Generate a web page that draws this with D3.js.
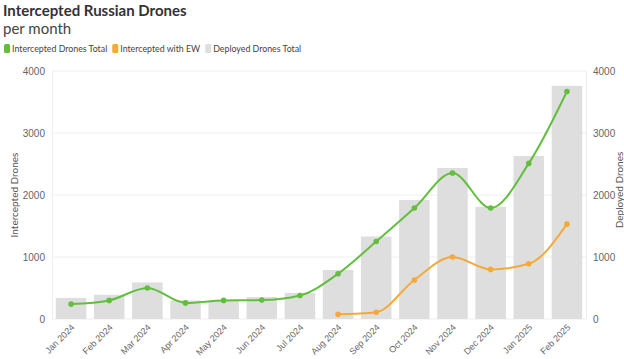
<!DOCTYPE html>
<html><head><meta charset="utf-8">
<script src="https://cdn.jsdelivr.net/npm/d3@7"></script>
<style>
body{margin:0;background:#fff;}
svg{display:block;font-family:"Source Sans Pro",Lato,"Noto Sans",sans-serif;}
</style></head>
<body><svg id="c" width="624" height="359"></svg>
<script>
const months = ["Jan 2024","Feb 2024","Mar 2024","Apr 2024","May 2024","Jun 2024","Jul 2024","Aug 2024","Sep 2024","Oct 2024","Nov 2024","Dec 2024","Jan 2025","Feb 2025"];
const deployedTotal = [340,390,590,300,300,355,420,790,1330,1920,2435,1810,2630,3760];
const interceptedTotal = [240,300,500,260,300,305,380,730,1250,1790,2355,1790,2510,3670];
const interceptedEW = [null,null,null,null,null,null,null,75,110,630,1000,800,890,1530];
const yTicks = [0,1000,2000,3000,4000];

const svg = d3.select("#c");
const L = 52, R = 586, T = 71, B = 319;
const x = d3.scaleBand().domain(months).range([L,R]).paddingInner(0.2).paddingOuter(0.1);
const y = d3.scaleLinear().domain([0,4000]).range([B,T]);
const y2 = d3.scaleLinear().domain([0,4000]).range([B,T]);
const green = "#62bf3e", orange = "#f4aa3a", gray = "#dedede";
const fmt = d3.format("d");

// grid
svg.append("g").selectAll("line").data(yTicks).join("line")
  .attr("x1",L).attr("x2",R).attr("y1",d=>y(d)).attr("y2",d=>y(d))
  .attr("stroke","#eeeeee").attr("stroke-width",1);
svg.append("line").attr("x1",L+0.5).attr("x2",L+0.5).attr("y1",T).attr("y2",B).attr("stroke","#eeeeee");
svg.append("line").attr("x1",R+0.5).attr("x2",R+0.5).attr("y1",T).attr("y2",B).attr("stroke","#eeeeee");

// y axes
const ax = d3.axisLeft(y).tickValues(yTicks).tickFormat(fmt).tickSize(0).tickPadding(7);
const gL = svg.append("g").attr("transform",`translate(${L},0)`).call(ax);
gL.select(".domain").remove();
gL.selectAll("text").attr("fill","#666").attr("font-size",10).attr("font-family","inherit");
const ax2 = d3.axisRight(y2).tickValues(yTicks).tickFormat(fmt).tickSize(0).tickPadding(7);
const gR = svg.append("g").attr("transform",`translate(${R},0)`).call(ax2);
gR.select(".domain").remove();
gR.selectAll("text").attr("fill","#666").attr("font-size",10).attr("font-family","inherit");

// bars
svg.append("g").selectAll("rect").data(deployedTotal).join("rect")
  .attr("x",(d,i)=>x(months[i])).attr("width",x.bandwidth())
  .attr("y",d=>y2(d)).attr("height",d=>B-y2(d)).attr("fill",gray);

// x axis
const gx = svg.append("g").attr("transform",`translate(0,${B})`).call(d3.axisBottom(x).tickSize(0).tickPadding(0));
gx.select(".domain").remove();
gx.selectAll("text").attr("fill","#666").attr("font-size",9).attr("font-family","inherit")
  .attr("text-anchor","end").attr("dy","0")
  .attr("transform","translate(4,9) rotate(-45)");

// lines
const cx = i => x(months[i]) + x.bandwidth()/2;
const line = d3.line().x((d,i)=>cx(i)).y(d=>y(d)).curve(d3.curveMonotoneX);
const ewData = interceptedEW.map((d,i)=>({d,i})).filter(o=>o.d!=null);
const line2 = d3.line().x(o=>cx(o.i)).y(o=>y(o.d)).curve(d3.curveMonotoneX);
svg.append("path").datum(ewData).attr("d",line2).attr("fill","none").attr("stroke",orange).attr("stroke-width",2);
svg.append("g").selectAll("circle").data(ewData).join("circle")
  .attr("cx",o=>cx(o.i)).attr("cy",o=>y(o.d)).attr("r",2.8).attr("fill",orange);
svg.append("path").datum(interceptedTotal).attr("d",line).attr("fill","none").attr("stroke",green).attr("stroke-width",2);
svg.append("g").selectAll("circle").data(interceptedTotal).join("circle")
  .attr("cx",(d,i)=>cx(i)).attr("cy",d=>y(d)).attr("r",2.8).attr("fill",green);

// axis titles
svg.append("text").attr("transform",`translate(18,195) rotate(-90)`).attr("text-anchor","middle")
  .attr("font-size",10).attr("fill","#555").text("Intercepted Drones");
svg.append("text").attr("transform",`translate(623,190) rotate(-90)`).attr("text-anchor","middle")
  .attr("font-size",10).attr("fill","#555").text("Deployed Drones");

// title
svg.append("text").attr("x",3).attr("y",16).attr("font-size",15).attr("font-weight","bold").attr("fill","#333").text("Intercepted Russian Drones");
svg.append("text").attr("x",3).attr("y",34).attr("font-size",15).attr("fill","#444").text("per month");

// legend
const leg = [{t:"Intercepted Drones Total",c:green},{t:"Intercepted with EW",c:orange},{t:"Deployed Drones Total",c:gray}];
const lg = svg.append("g");
let lx = 4;
leg.forEach(l=>{
  lg.append("rect").attr("x",lx).attr("y",44).attr("width",6).attr("height",9).attr("rx",1.5).attr("fill",l.c);
  const t = lg.append("text").attr("x",lx+8).attr("y",52).attr("font-size",8.8).attr("fill","#444").text(l.t);
  lx += 8 + t.node().getComputedTextLength() + 5;
});
</script></body></html>
